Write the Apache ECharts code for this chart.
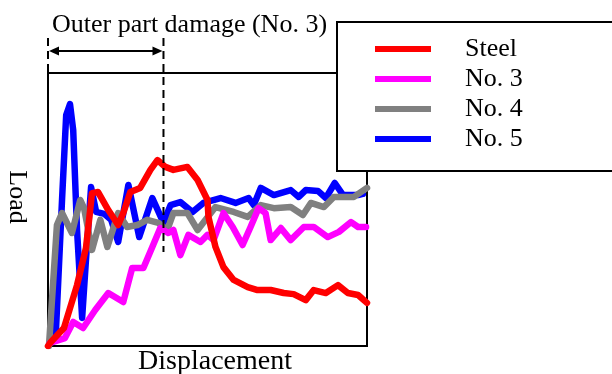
<!DOCTYPE html>
<html>
<head>
<meta charset="utf-8">
<script src="https://cdn.jsdelivr.net/npm/echarts@6/dist/echarts.min.js"></script>
<style>html,body{margin:0;padding:0;background:#fff}#c{width:612px;height:374px}</style>
</head>
<body>
<div id="c"></div>
<script>
// ---- data (arbitrary units: displacement 0-100, load 0-100) ----
const seriesNames = ['Steel', 'No. 3', 'No. 4', 'No. 5'];
const xAxisLabel = 'Displacement';
const yAxisLabel = 'Load';
const annotationText = 'Outer part damage (No. 3)';
const damageStart = 0;
const damageEnd = 36.2;

const steelX = [0, 0.9, 5.0, 9.1, 11.9, 13.8, 15.7, 18.9, 22.0, 23.6, 25.8, 28.9, 32.1, 34.3, 36.8, 39.3, 43.7, 46.9, 50.0, 50.3, 52.5, 55.0, 58.2, 62.6, 65.7, 69.8, 73.9, 77.0, 80.8, 83.3, 87.1, 90.9, 94.0, 97.2, 100];
const steelY = [0, 1.5, 6.6, 22.3, 35.9, 56.0, 56.4, 49.8, 44.3, 48.7, 56.4, 57.9, 64.5, 68.1, 65.6, 64.5, 65.6, 60.8, 53.5, 47.3, 36.3, 28.9, 24.2, 21.6, 20.5, 20.5, 19.4, 19.0, 16.8, 20.5, 19.4, 22.3, 19.4, 18.7, 15.8];

const no3X = [0.6, 5.3, 7.9, 11.0, 14.8, 18.9, 23.6, 26.4, 29.9, 32.7, 35.2, 37.7, 39.3, 41.5, 44.0, 47.8, 50.0, 51.9, 55.0, 57.9, 61.0, 63.5, 66.0, 68.2, 69.8, 73.0, 76.1, 80.2, 83.3, 87.7, 91.2, 95.0, 97.2, 99.7];
const no3Y = [1.1, 2.9, 8.8, 6.6, 13.2, 19.4, 16.1, 28.6, 28.6, 36.3, 43.2, 41.4, 42.5, 33.3, 40.7, 38.1, 40.7, 38.8, 48.7, 43.6, 37.0, 43.6, 50.5, 48.7, 38.8, 43.2, 38.8, 43.6, 43.6, 39.9, 41.8, 45.4, 43.6, 43.6];

const no4X = [0.3, 2.8, 4.4, 7.5, 10.1, 11.3, 13.8, 16.4, 18.6, 22.0, 24.8, 28.0, 31.1, 34.6, 37.4, 39.3, 43.7, 46.9, 52.5, 58.2, 62.6, 66.7, 70.8, 76.1, 79.9, 82.4, 86.5, 89.6, 95.9, 100];
const no4Y = [0, 44.3, 48.7, 41.4, 53.5, 50.5, 35.2, 46.2, 36.3, 48.7, 43.6, 44.3, 46.2, 45.1, 42.5, 48.7, 48.7, 42.5, 50.9, 49.1, 47.3, 51.6, 50.5, 50.9, 48.0, 52.4, 50.9, 54.6, 54.6, 57.9];

const no5X = [0.3, 2.5, 4.4, 5.7, 6.9, 7.9, 9.1, 10.7, 11.9, 13.5, 15.1, 17.6, 19.8, 22.0, 25.2, 28.6, 32.7, 36.2, 38.4, 41.5, 45.3, 48.7, 54.1, 58.8, 62.9, 64.5, 66.7, 70.8, 76.1, 78.6, 80.8, 84.6, 87.1, 89.9, 92.5, 97.2, 98.7];
const no5Y = [0.4, 5.9, 53.5, 84.6, 88.6, 79.1, 42.5, 10.3, 31.5, 58.2, 49.1, 48.4, 46.2, 38.1, 59.0, 39.9, 54.2, 45.1, 51.6, 52.7, 49.1, 52.4, 54.2, 52.4, 54.2, 51.6, 57.9, 55.3, 57.1, 54.6, 57.1, 56.8, 54.2, 59.7, 55.3, 55.3, 55.7];

const colors = {'Steel': '#ff0000', 'No. 3': '#ff00ff', 'No. 4': '#808080', 'No. 5': '#0000ff'};

function zip(xs, ys) { return xs.map((x, i) => [x, ys[i]]); }
const seriesData = {
  'Steel': zip(steelX, steelY),
  'No. 3': zip(no3X, no3Y),
  'No. 4': zip(no4X, no4Y),
  'No. 5': zip(no5X, no5Y)
};

const FONT = '"Liberation Serif", "Times New Roman", serif';
const chart = echarts.init(document.getElementById('c'), null, {renderer: 'canvas'});

// draw order: blue bottom, then gray, magenta, red on top
const drawOrder = ['No. 5', 'No. 4', 'No. 3', 'Steel'];

chart.setOption({
  animation: false,
  backgroundColor: '#fff',
  grid: {left: 48, top: 73, width: 319, height: 273, show: true, borderColor: '#000', borderWidth: 2, backgroundColor: 'transparent'},
  xAxis: {type: 'value', min: 0, max: 100, show: false},
  yAxis: {type: 'value', min: 0, max: 100, show: false},
  legend: {
    data: seriesNames,
    orient: 'vertical',
    left: 370, top: 31,
    icon: 'rect',
    itemWidth: 56, itemHeight: 6,
    itemGap: 4,
    z: 20,
    textStyle: {fontFamily: FONT, fontSize: 26, color: '#000', lineHeight: 26, padding: [0, 0, 0, 29]}
  },
  series: drawOrder.map(name => ({
    name: name,
    type: 'line',
    data: seriesData[name],
    symbol: 'none',
    smooth: false,
    lineStyle: {color: colors[name], width: 6.5, join: 'round', cap: 'round'},
    itemStyle: {color: colors[name]},
    z: 2
  }))
});

const xs = chart.convertToPixel({xAxisIndex: 0}, damageStart);
const xe = chart.convertToPixel({xAxisIndex: 0}, damageEnd);
const yTop = 73;
const arrowY = 51;

chart.setOption({
  graphic: [
    // legend box
    {type: 'rect', shape: {x: 337, y: 22, width: 290, height: 149}, style: {fill: '#fff', stroke: '#000', lineWidth: 2}, z: 10},
    // dashed boundary lines
    {type: 'line', shape: {x1: xs, y1: 38, x2: xs, y2: yTop}, style: {stroke: '#000', lineWidth: 2, lineDash: [8, 5]}, z: 5},
    {type: 'line', shape: {x1: xe, y1: 38, x2: xe, y2: 252}, style: {stroke: '#000', lineWidth: 2, lineDash: [8, 5]}, z: 5},
    // double arrow
    {type: 'line', shape: {x1: xs + 4, y1: arrowY, x2: xe - 4, y2: arrowY}, style: {stroke: '#000', lineWidth: 2}, z: 5},
    {type: 'polygon', shape: {points: [[xs + 1, arrowY], [xs + 11, arrowY - 4.5], [xs + 11, arrowY + 4.5]]}, style: {fill: '#000'}, z: 5},
    {type: 'polygon', shape: {points: [[xe - 1, arrowY], [xe - 11, arrowY - 4.5], [xe - 11, arrowY + 4.5]]}, style: {fill: '#000'}, z: 5},
    // annotation text
    {type: 'text', x: 52, y: 25, style: {text: annotationText, font: '26px ' + FONT, fill: '#000', verticalAlign: 'middle', align: 'left'}, z: 5},
    // axis names
    {type: 'text', x: 215, y: 362, style: {text: xAxisLabel, font: '28px ' + FONT, fill: '#000', verticalAlign: 'middle', align: 'center'}, z: 5},
    {type: 'text', x: 17, y: 197, rotation: -Math.PI / 2, style: {text: yAxisLabel, font: '26px ' + FONT, fill: '#000', verticalAlign: 'middle', align: 'center'}, z: 5}
  ]
});
</script>
</body>
</html>
